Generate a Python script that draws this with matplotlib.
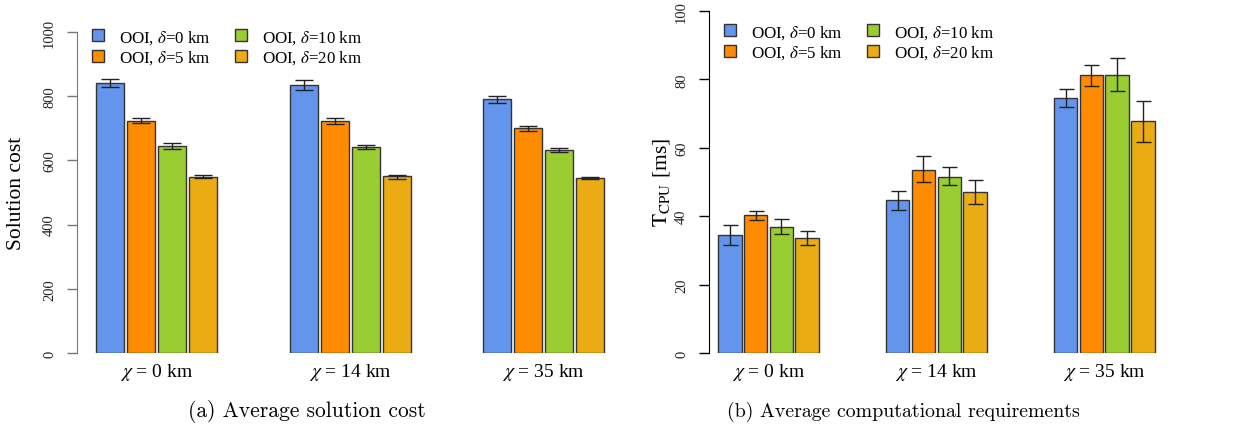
import numpy as np
import matplotlib
matplotlib.use("Agg")
import matplotlib.pyplot as plt
from matplotlib.patches import Patch

plt.rcParams['font.family'] = ['Liberation Serif', 'DejaVu Serif']
plt.rcParams['mathtext.fontset'] = 'stix'

# ---- data ----
groups = [r'$\chi$ = 0 km', r'$\chi$ = 14 km', r'$\chi$ = 35 km']
series = [r'OOI, $\delta$=0 km', r'OOI, $\delta$=5 km',
          r'OOI, $\delta$=10 km', r'OOI, $\delta$=20 km']
colors = ['#6495ED', '#FF8C00', '#9ACD32', '#EAAC12']

# solution cost (mean, err low, err high) per series x group
cost = np.array([[840, 834, 791],
                 [723, 724, 700],
                 [645, 642, 632],
                 [549, 550, 545]])
cost_lo = np.array([[828, 819, 778],
                    [715, 714, 692],
                    [637, 636, 626],
                    [545, 543, 543]])
cost_hi = np.array([[853, 849, 801],
                    [731, 733, 708],
                    [653, 647, 638],
                    [553, 555, 547]])

# CPU time [ms]
cpu = np.array([[34.4, 44.6, 74.6],
                [40.3, 53.6, 81.2],
                [36.9, 51.6, 81.4],
                [33.5, 47.1, 67.7]])
cpu_lo = np.array([[31.5, 41.8, 72.0],
                   [38.9, 49.9, 78.1],
                   [34.7, 49.0, 76.5],
                   [31.6, 43.5, 61.6]])
cpu_hi = np.array([[37.3, 47.3, 77.1],
                   [41.4, 57.5, 84.3],
                   [39.3, 54.5, 86.3],
                   [35.6, 50.7, 73.8]])

W, H = 1250, 427
fig = plt.figure(figsize=(W / 100, H / 100), dpi=100)


def panel(rect, vals, lo, hi, gpitch, xl, xr, ymax, yticks, ylabel, capsize,
          spine_col, leg_xy, ylab_x):
    ax = fig.add_axes(rect)
    centers = np.arange(len(groups)) * gpitch
    for i in range(len(series)):
        x = centers + (i - 1.5)
        err = np.vstack([vals[i] - lo[i], hi[i] - vals[i]])
        ax.bar(x, vals[i], width=0.91, color=colors[i], edgecolor='#333333',
               linewidth=1.0, label=series[i], zorder=2)
        ax.errorbar(x, vals[i], yerr=err, fmt='none', ecolor='#222222',
                    elinewidth=1.0, capsize=capsize, capthick=1.0, zorder=3)
    ax.set_xlim(xl, centers[-1] + xr)
    ax.set_ylim(0, ymax)
    for s in ['top', 'right', 'bottom']:
        ax.spines[s].set_visible(False)
    ax.spines['left'].set_color(spine_col)
    ax.set_yticks(yticks)
    ax.set_yticklabels([str(v) for v in yticks], rotation=90, va='center',
                       fontsize=10.5, color='#222222')
    ax.tick_params(axis='y', length=7, width=1, color=spine_col, pad=8)
    ax.set_xticks(centers)
    ax.set_xticklabels(groups, fontsize=14)
    ax.tick_params(axis='x', length=0, pad=6)
    ax.set_ylabel(ylabel, fontsize=15.5)
    ax.yaxis.set_label_coords(ylab_x, 0.5)
    handles = [Patch(facecolor=c, edgecolor='#333333') for c in colors]
    ax.legend(handles, series, ncol=2, frameon=False, loc='upper left',
              bbox_to_anchor=(leg_xy[0] / W, 1 - leg_xy[1] / H),
              bbox_transform=fig.transFigure, fontsize=12.2,
              handlelength=0.7, handleheight=0.7, handletextpad=0.9,
              columnspacing=1.45, labelspacing=0.15, borderpad=0,
              borderaxespad=0)
    return ax


# left panel: pixel geometry -> axes rect
pl = 31.0  # px per bar unit
left_w = (2.56 + 12.5 + 2.56) * pl
panel([77 / W, (H - 354) / H, left_w / W, 321 / H], cost, cost_lo, cost_hi,
      6.25, -2.56, 2.56, 1000, [0, 200, 400, 600, 800, 1000],
      'Solution cost', 6.5, '#777777', (92, 29), (26 - 77) / left_w)

pr = 25.75
right_w = (2.31 + 13.04 + 2.1) * pr
panel([709 / W, (H - 354) / H, right_w / W, 342 / H], cpu, cpu_lo, cpu_hi,
      6.52, -2.31, 2.1, 100, [0, 20, 40, 60, 80, 100],
      r'$\mathrm{T}_{\mathrm{CPU}}$ [ms]', 5.4, '#000000', (724, 24),
      (672 - 709) / right_w)

fig.text(307 / W, 1 - 412 / H, '(a) Average solution cost', ha='center',
         va='center', fontsize=15.5, family='cmr10')
fig.text(903 / W, 1 - 412 / H, '(b) Average computational requirements',
         ha='center', va='center', fontsize=14.3, family='cmr10')

fig.savefig('out.png', dpi=100)
